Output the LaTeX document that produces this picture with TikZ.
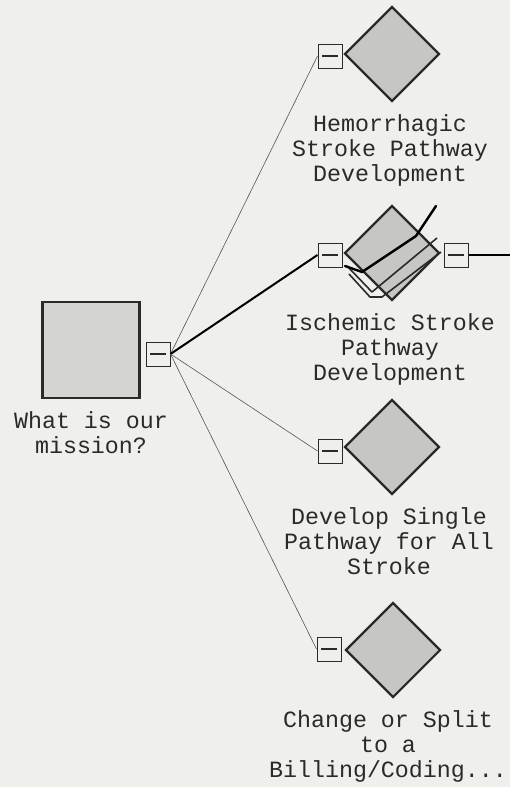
\documentclass[tikz,border=0pt]{standalone}
\usepackage{fontspec}
\setmonofont{Liberation Mono}
\usepackage{tikz}
\usetikzlibrary{positioning,shapes.geometric}
\definecolor{paper}{HTML}{EFEFEB}
\definecolor{shadegray}{HTML}{C6C6C4}
\definecolor{rootgray}{HTML}{D4D4D2}
\definecolor{inkgray}{HTML}{2A2A2A}
\tikzset{
  rootbox/.style={draw=inkgray, line width=2.2pt, fill=rootgray, minimum width=97pt, minimum height=96pt, inner sep=0pt},
  dmnd/.style={diamond, draw=inkgray, line width=2.2pt, fill=shadegray, minimum width=95pt, minimum height=95pt, inner sep=0pt},
  togglebox/.style={draw=inkgray, line width=1pt, fill=paper, minimum size=24pt, inner sep=0pt,
    path picture={\draw[line width=1.6pt] ([xshift=-8pt]path picture bounding box.center) -- ([xshift=8pt]path picture bounding box.center);}},
  lbl/.style={font=\ttfamily\fontsize{23.3}{25}\selectfont, text=inkgray, align=center, inner sep=0pt},
  thinlink/.style={draw=inkgray!80, line width=0.6pt},
  thicklink/.style={draw=black, line width=2pt}
}
\begin{document}
\begin{tikzpicture}[x=1pt,y=-1pt]
  \useasboundingbox[fill=paper] (0,0) rectangle (510,787);

  % root
  \node[rootbox] (root) at (91,350) {};
  \node[togglebox] (rt) at (158,354) {};
  \node[lbl, below=12pt of root] (rootlbl) {What is our\\mission?};

  % children
  \node[dmnd] (d1) at (392,54) {};
  \node[togglebox] (t1) at (330,56) {};
  \node[lbl, below=12pt of d1, xshift=-2pt] (l1) {Hemorrhagic\\Stroke Pathway\\Development};

  \node[dmnd] (d2) at (392,253) {};
  \node[togglebox] (t2) at (330,255) {};
  \node[togglebox] (t2r) at (456,255) {};
  \node[lbl, below=12pt of d2, xshift=-2pt] (l2) {Ischemic Stroke\\Pathway\\Development};
  \coordinate (rim) at (510,255);

  \node[dmnd] (d3) at (392,447) {};
  \node[togglebox] (t3) at (330,451) {};
  \node[lbl, below=12pt of d3, xshift=-3pt] (l3) {Develop Single\\Pathway for All\\Stroke};

  \node[dmnd] (d4) at (393,650) {};
  \node[togglebox] (t4) at (329,649) {};
  \node[lbl, below=12pt of d4, xshift=-5pt] (l4) {Change or Split\\to a\\Billing/Coding...};

  % stacked look and check stroke on the ischemic node
  \draw[inkgray, line width=1.6pt, line join=round] (347,266) -- (372,292) -- (437,238);
  \draw[inkgray, line width=1.6pt, line join=round] (349,274) -- (370,297) -- (382,297) -- (441,252);
  \draw[black, line width=2.4pt, line join=round, line cap=round] (436,206) -- (416,236) -- (362,272) -- (345,266);

  % links
  \draw[thinlink] (rt.east) -- (t1.west);
  \draw[thicklink] (rt.east) -- (t2.west);
  \draw[thinlink] (rt.east) -- (t3.west);
  \draw[thinlink] (rt.east) -- (t4.west);
  \draw[thicklink, line width=1.4pt] (t2r.east) -- (rim);
\end{tikzpicture}
\end{document}
